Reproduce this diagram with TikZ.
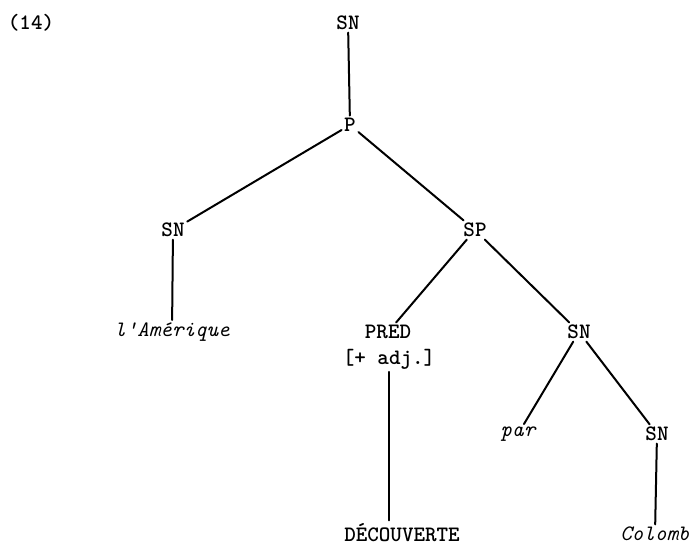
\documentclass[tikz,border=0pt]{standalone}
\usepackage{fontspec}

\begin{document}
\begin{tikzpicture}[
    x=1bp, y=-1bp,
    cat/.style={inner sep=2.5bp, font=\fontsize{22bp}{26bp}\selectfont\ttfamily\bfseries},
    word/.style={inner sep=2.5bp, font=\fontsize{22bp}{26bp}\selectfont\ttfamily\itshape},
    branch/.style={line width=2bp, line cap=round}
]
\useasboundingbox (0,0) rectangle (695,546);

% Numero
\node[cat] (num) at (31, 23) {(14)};

% Arbre
\node[cat] (sn0) at (348, 23) {SN};
\node[cat] (p) at (350, 125) {P};
\node[cat] (sn1) at (173, 230) {SN};
\node[cat] (sp) at (475, 230) {SP};
\node[word] (amer) at (172, 332) {l'Amérique};
\node[cat] (pred) at (388, 332) {PRED};
\node[cat] (adj) at (389, 359) {[+ adj.]};
\node[cat] (sn2) at (579, 332) {SN};
\node[word] (par) at (518, 434) {par};
\node[cat] (sn3) at (657, 434) {SN};
\node[cat, anchor=base] (dec) at (402, 541) {DÉCOUVERTE};
\node[word] (colomb) at (655, 534) {Colomb};

\draw[branch] (sn0) -- (p);
\draw[branch] (p) -- (sn1);
\draw[branch] (p) -- (sp);
\draw[branch] (sn1) -- (amer);
\draw[branch] (sp) -- (pred);
\draw[branch] (sp) -- (sn2);
\draw[branch] (adj.south) -- (adj.south |- dec.north);
\draw[branch] (sn2) -- (par);
\draw[branch] (sn2) -- (sn3);
\draw[branch] (sn3) -- (colomb);
\end{tikzpicture}
\end{document}
